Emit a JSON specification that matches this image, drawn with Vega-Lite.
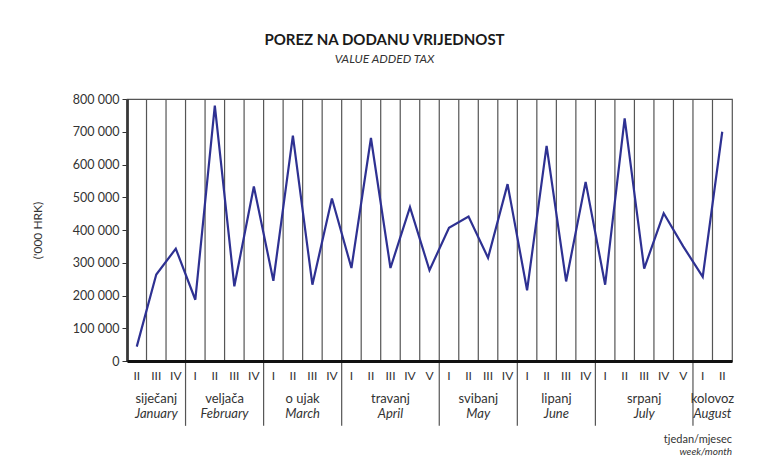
{
  "$schema": "https://vega.github.io/schema/vega-lite/v6.json",
  "width": 605,
  "height": 262,
  "autosize": {"type": "none"},
  "padding": {"left": 127, "top": 99, "right": 36, "bottom": 99},
  "background": "white",
  "title": {
    "text": "POREZ NA DODANU VRIJEDNOST",
    "subtitle": "VALUE ADDED TAX",
    "anchor": "middle",
    "dx": -45,
    "offset": 28,
    "font": "Lato",
    "fontSize": 15,
    "fontWeight": "bold",
    "color": "#1a1a1a",
    "subtitleFont": "Lato",
    "subtitleFontSize": 12,
    "subtitleFontStyle": "italic",
    "subtitleColor": "#333333",
    "subtitlePadding": 6
  },
  "config": {
    "view": {"stroke": "#555555", "strokeWidth": 1.2},
    "font": "Lato",
    "axisY": {
      "labelOverlap": false,
      "grid": false,
      "domainColor": "#111111",
      "domainWidth": 2.5,
      "tickColor": "#333333",
      "tickSize": 5,
      "labelPadding": 3,
      "labelFont": "Lato",
      "labelFontSize": 12.5,
      "labelColor": "#333333",
      "titleFont": "Lato",
      "titleFontSize": 12,
      "titleFontWeight": "normal",
      "titleColor": "#333333",
      "titlePadding": 28,
      "zindex": 1
    }
  },
  "datasets": {
    "weeks": [
      {"key": "siječanj|II", "month": "siječanj", "week": "II", "value": 44000},
      {"key": "siječanj|III", "month": "siječanj", "week": "III", "value": 264000},
      {"key": "siječanj|IV", "month": "siječanj", "week": "IV", "value": 343000},
      {"key": "veljača|I", "month": "veljača", "week": "I", "value": 187000},
      {"key": "veljača|II", "month": "veljača", "week": "II", "value": 780000},
      {"key": "veljača|III", "month": "veljača", "week": "III", "value": 228000},
      {"key": "veljača|IV", "month": "veljača", "week": "IV", "value": 533000},
      {"key": "o ujak|I", "month": "o ujak", "week": "I", "value": 245000},
      {"key": "o ujak|II", "month": "o ujak", "week": "II", "value": 688000},
      {"key": "o ujak|III", "month": "o ujak", "week": "III", "value": 233000},
      {"key": "o ujak|IV", "month": "o ujak", "week": "IV", "value": 496000},
      {"key": "travanj|I", "month": "travanj", "week": "I", "value": 284000},
      {"key": "travanj|II", "month": "travanj", "week": "II", "value": 681000},
      {"key": "travanj|III", "month": "travanj", "week": "III", "value": 284000},
      {"key": "travanj|IV", "month": "travanj", "week": "IV", "value": 470000},
      {"key": "travanj|V", "month": "travanj", "week": "V", "value": 277000},
      {"key": "svibanj|I", "month": "svibanj", "week": "I", "value": 407000},
      {"key": "svibanj|II", "month": "svibanj", "week": "II", "value": 441000},
      {"key": "svibanj|III", "month": "svibanj", "week": "III", "value": 315000},
      {"key": "svibanj|IV", "month": "svibanj", "week": "IV", "value": 540000},
      {"key": "lipanj|I", "month": "lipanj", "week": "I", "value": 216000},
      {"key": "lipanj|II", "month": "lipanj", "week": "II", "value": 657000},
      {"key": "lipanj|III", "month": "lipanj", "week": "III", "value": 243000},
      {"key": "lipanj|IV", "month": "lipanj", "week": "IV", "value": 547000},
      {"key": "srpanj|I", "month": "srpanj", "week": "I", "value": 233000},
      {"key": "srpanj|II", "month": "srpanj", "week": "II", "value": 741000},
      {"key": "srpanj|III", "month": "srpanj", "week": "III", "value": 282000},
      {"key": "srpanj|IV", "month": "srpanj", "week": "IV", "value": 451000},
      {"key": "srpanj|V", "month": "srpanj", "week": "V", "value": 350000},
      {"key": "kolovoz|I", "month": "kolovoz", "week": "I", "value": 257000},
      {"key": "kolovoz|II", "month": "kolovoz", "week": "II", "value": 700000}
    ],
    "months": [
      {"hr": "siječanj", "en": "January", "mid": "siječanj|III", "odd": true},
      {"hr": "veljača", "en": "February", "mid": "veljača|III", "odd": false},
      {"hr": "o ujak", "en": "March", "mid": "o ujak|III", "odd": false},
      {"hr": "travanj", "en": "April", "mid": "travanj|III", "odd": true},
      {"hr": "svibanj", "en": "May", "mid": "svibanj|III", "odd": false},
      {"hr": "lipanj", "en": "June", "mid": "lipanj|III", "odd": false},
      {"hr": "srpanj", "en": "July", "mid": "srpanj|III", "odd": true},
      {"hr": "kolovoz", "en": "August", "mid": "kolovoz|II", "odd": false}
    ]
  },
  "layer": [
    {
      "data": {"name": "weeks"},
      "mark": {"type": "rule", "color": "#555555", "strokeWidth": 1.2},
      "encoding": {
        "x": {
          "field": "key",
          "type": "ordinal",
          "bandPosition": 0,
          "title": null,
          "scale": {
            "domain": ["siječanj|II", "siječanj|III", "siječanj|IV", "veljača|I", "veljača|II", "veljača|III", "veljača|IV", "o ujak|I", "o ujak|II", "o ujak|III", "o ujak|IV", "travanj|I", "travanj|II", "travanj|III", "travanj|IV", "travanj|V", "svibanj|I", "svibanj|II", "svibanj|III", "svibanj|IV", "lipanj|I", "lipanj|II", "lipanj|III", "lipanj|IV", "srpanj|I", "srpanj|II", "srpanj|III", "srpanj|IV", "srpanj|V", "kolovoz|I", "kolovoz|II"],
            "paddingInner": 0,
            "paddingOuter": 0
          },
          "axis": {
            "title": null,
            "labelExpr": "split(datum.value, '|')[1]",
            "ticks": false,
            "labelPadding": 9,
            "labelFont": "Lato",
            "labelFontSize": 12,
            "labelColor": "#333333",
            "labelAngle": 0,
            "labelBaseline": "top",
            "domainColor": "#111111",
            "domainWidth": 3,
            "grid": false,
            "zindex": 1
          }
        }
      }
    },
    {
      "data": {"name": "weeks"},
      "mark": {"type": "line", "color": "#2e3192", "strokeWidth": 2.2},
      "encoding": {
        "x": {"field": "key", "type": "ordinal", "title": null},
        "y": {
          "field": "value",
          "type": "quantitative",
          "title": "('000 HRK)",
          "scale": {"domain": [0, 800000], "nice": false},
          "axis": {"title": "('000 HRK)", "values": [0, 100000, 200000, 300000, 400000, 500000, 600000, 700000, 800000], "labelExpr": "replace(format(datum.value, ','), ',', ' ')"}
        }
      }
    },
    {
      "data": {"name": "weeks"},
      "transform": [{"filter": "datum.week == 'I'"}],
      "mark": {"type": "rule", "color": "#555555", "strokeWidth": 1.2},
      "encoding": {
        "x": {"field": "key", "type": "ordinal", "bandPosition": 0, "title": null},
        "y": {"datum": 0, "type": "quantitative", "title": "('000 HRK)", "axis": {"title": "('000 HRK)", "values": [0, 100000, 200000, 300000, 400000, 500000, 600000, 700000, 800000], "labelExpr": "replace(format(datum.value, ','), ',', ' ')"}},
        "y2": {"datum": -198000}
      }
    },
    {
      "data": {"name": "months"},
      "transform": [{"filter": "datum.odd"}],
      "mark": {"type": "text", "font": "Lato", "fontSize": 13, "color": "#333333", "baseline": "alphabetic"},
      "encoding": {
        "x": {"field": "mid", "type": "ordinal", "bandPosition": 0.5, "title": null},
        "y": {"datum": -128000, "type": "quantitative", "title": "('000 HRK)", "axis": {"title": "('000 HRK)", "values": [0, 100000, 200000, 300000, 400000, 500000, 600000, 700000, 800000], "labelExpr": "replace(format(datum.value, ','), ',', ' ')"}},
        "text": {"field": "hr"}
      }
    },
    {
      "data": {"name": "months"},
      "transform": [{"filter": "!datum.odd"}],
      "mark": {"type": "text", "font": "Lato", "fontSize": 13, "color": "#333333", "baseline": "alphabetic"},
      "encoding": {
        "x": {"field": "mid", "type": "ordinal", "bandPosition": 0, "title": null},
        "y": {"datum": -128000, "type": "quantitative", "title": "('000 HRK)", "axis": {"title": "('000 HRK)", "values": [0, 100000, 200000, 300000, 400000, 500000, 600000, 700000, 800000], "labelExpr": "replace(format(datum.value, ','), ',', ' ')"}},
        "text": {"field": "hr"}
      }
    },
    {
      "data": {"name": "months"},
      "transform": [{"filter": "datum.odd"}],
      "mark": {"type": "text", "font": "Lato", "fontSize": 13, "fontStyle": "italic", "color": "#333333", "baseline": "alphabetic"},
      "encoding": {
        "x": {"field": "mid", "type": "ordinal", "bandPosition": 0.5, "title": null},
        "y": {"datum": -174000, "type": "quantitative", "title": "('000 HRK)", "axis": {"title": "('000 HRK)", "values": [0, 100000, 200000, 300000, 400000, 500000, 600000, 700000, 800000], "labelExpr": "replace(format(datum.value, ','), ',', ' ')"}},
        "text": {"field": "en"}
      }
    },
    {
      "data": {"name": "months"},
      "transform": [{"filter": "!datum.odd"}],
      "mark": {"type": "text", "font": "Lato", "fontSize": 13, "fontStyle": "italic", "color": "#333333", "baseline": "alphabetic"},
      "encoding": {
        "x": {"field": "mid", "type": "ordinal", "bandPosition": 0, "title": null},
        "y": {"datum": -174000, "type": "quantitative", "title": "('000 HRK)", "axis": {"title": "('000 HRK)", "values": [0, 100000, 200000, 300000, 400000, 500000, 600000, 700000, 800000], "labelExpr": "replace(format(datum.value, ','), ',', ' ')"}},
        "text": {"field": "en"}
      }
    },
    {
      "data": {"values": [{"hr": "tjedan/mjesec", "en": "week/month"}]},
      "mark": {"type": "text", "font": "Lato", "fontSize": 11, "color": "#333333", "align": "right", "baseline": "alphabetic"},
      "encoding": {
        "x": {"datum": "kolovoz|II", "type": "ordinal", "bandPosition": 1, "title": null},
        "y": {"datum": -250000, "type": "quantitative", "title": "('000 HRK)", "axis": {"title": "('000 HRK)", "values": [0, 100000, 200000, 300000, 400000, 500000, 600000, 700000, 800000], "labelExpr": "replace(format(datum.value, ','), ',', ' ')"}},
        "text": {"field": "hr"}
      }
    },
    {
      "data": {"values": [{"hr": "tjedan/mjesec", "en": "week/month"}]},
      "mark": {"type": "text", "font": "Lato", "fontSize": 10, "fontStyle": "italic", "color": "#333333", "align": "right", "baseline": "alphabetic"},
      "encoding": {
        "x": {"datum": "kolovoz|II", "type": "ordinal", "bandPosition": 1, "title": null},
        "y": {"datum": -287000, "type": "quantitative", "title": "('000 HRK)", "axis": {"title": "('000 HRK)", "values": [0, 100000, 200000, 300000, 400000, 500000, 600000, 700000, 800000], "labelExpr": "replace(format(datum.value, ','), ',', ' ')"}},
        "text": {"field": "en"}
      }
    }
  ]
}
